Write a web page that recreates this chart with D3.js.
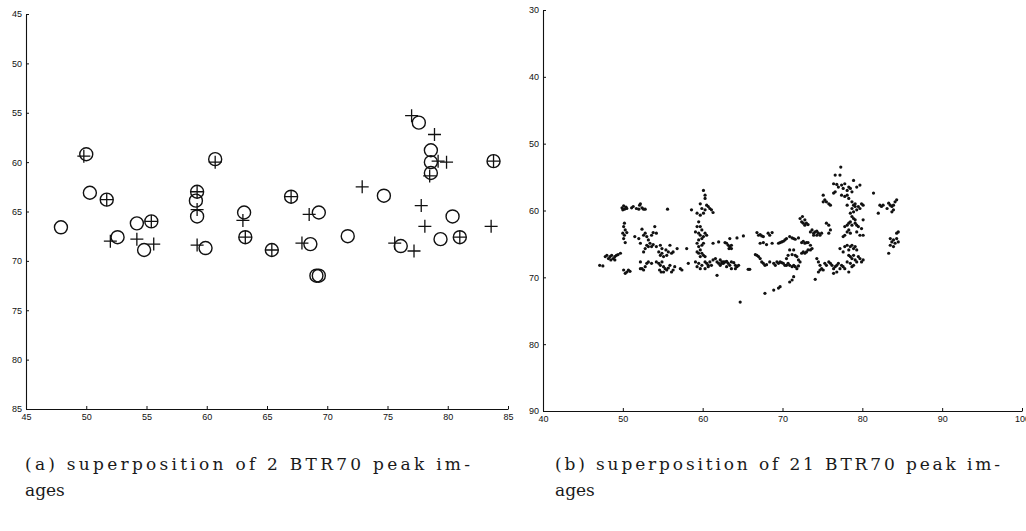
<!DOCTYPE html>
<html><head><meta charset="utf-8">
<script src="https://cdn.jsdelivr.net/npm/d3@7"></script>
<style>
html,body{margin:0;padding:0;background:#fff;}
svg{display:block;}
.tick text{font-family:"Liberation Sans",Arial,sans-serif;font-size:9px;fill:#111;}
.caption{font-family:"DejaVu Serif",serif;font-size:17px;fill:#1a1a1a;}
</style></head>
<body>
<svg id="c" width="1026" height="531"></svg>
<script>
// ---------- Panel (a): superposition of 2 peak images ----------
const aTicksX = [45,50,55,60,65,70,75,80,85];
const aTicksY = [45,50,55,60,65,70,75,80,85];
// image 1 peaks (circles) [x, y]
const aCircles = [
 [50.0,59.2],[60.7,59.7],[50.3,63.1],[51.7,63.8],[59.2,63.0],[59.1,63.9],[59.2,65.5],
 [47.9,66.6],[54.2,66.2],[55.4,66.0],[63.1,65.1],[63.2,67.6],[52.6,67.6],[54.8,68.9],
 [59.9,68.7],[65.4,68.9],[77.6,56.0],[78.6,58.8],[78.6,60.0],[78.6,61.1],[83.8,59.9],
 [74.7,63.4],[67.0,63.5],[69.3,65.1],[80.4,65.5],[71.7,67.5],[79.4,67.8],[81.0,67.6],
 [68.6,68.3],[76.1,68.5],[69.1,71.5],[69.3,71.5]
];
// image 2 peaks (crosses) [x, y]
const aCrosses = [
 [49.8,59.4],[60.7,60.0],[51.7,63.8],[59.2,63.0],[59.2,64.8],[55.4,66.0],[63.0,65.9],
 [63.2,67.6],[52.0,68.0],[54.2,67.8],[55.6,68.3],[59.2,68.4],[65.4,68.9],[77.0,55.3],
 [78.9,57.2],[79.9,60.0],[79.2,59.9],[78.5,61.4],[83.8,59.9],[72.9,62.5],[67.0,63.5],
 [77.8,64.4],[68.5,65.3],[78.1,66.5],[83.6,66.5],[81.0,67.6],[67.9,68.2],[75.6,68.2],
 [77.2,69.0]
];

// ---------- Panel (b): superposition of 21 peak images ----------
const bTicksX = [40,50,60,70,80,90,100];
const bTicksY = [30,40,50,60,70,80,90];
const bPoints = [
 [49.9,59.6],[50.1,59.3],[50.2,59.8],[50.0,59.9],[50.4,59.5],[50.5,59.7],[51.1,59.6],[51.3,59.4],
 [51.7,59.7],[52.1,59.2],[52.2,59.0],[52.4,59.6],[52.6,59.8],[52.8,59.8],[52.0,59.8],[55.6,59.8],
 [50.2,61.9],[50.1,62.4],[50.3,62.9],[50.0,63.4],[50.2,63.7],[50.5,63.3],[50.1,64.2],[50.3,64.8],
 [51.5,63.9],[52.0,64.2],[52.4,62.8],[52.6,63.7],[52.8,63.4],[53.0,63.9],[53.2,64.4],[53.4,64.9],
 [53.6,63.7],[53.8,63.3],[54.0,62.4],[54.2,63.4],[53.2,65.4],[53.0,65.2],[52.8,65.7],[52.6,66.2],
 [53.6,65.4],[53.8,65.1],[52.2,64.9],[54.2,65.4],[54.7,65.2],[54.9,65.7],
 [54.5,66.2],[54.7,66.7],[55.1,66.9],[55.5,66.7],[55.7,66.2],[55.9,65.2],[56.1,66.4],[55.4,65.9],
 [54.9,66.4],[56.3,66.2],[56.8,65.7],
 [47.8,66.9],[48.0,66.7],[48.2,67.2],[48.4,66.9],[48.6,66.7],[48.8,67.2],[49.0,67.4],[49.2,66.7],
 [49.4,66.6],[49.7,66.4],[49.0,66.9],[48.5,67.4],[47.1,68.2],[47.5,68.3],
 [50.1,68.9],[50.3,69.4],[50.5,69.2],[50.7,68.9],[50.9,69.1],
 [52.2,67.7],[52.4,68.7],[52.6,68.9],[52.8,68.4],[53.0,67.9],[53.2,67.7],[53.6,67.9],[54.2,67.7],
 [54.5,67.9],[54.7,68.2],[54.9,67.7],[55.1,68.4],[55.3,68.7],[55.5,68.9],[55.7,68.6],[55.9,68.2],
 [56.1,69.2],[56.3,68.9],[56.5,68.4],[54.6,68.9],[54.8,69.2],[55.1,69.2],[57.2,68.7],[57.4,68.9],
 [58.2,67.9],[52.2,68.7],
 [59.7,59.0],[60.1,57.0],[60.3,57.7],[60.3,58.2],[59.9,59.7],[60.3,59.9],[60.1,60.4],[59.7,60.7],
 [59.3,60.4],[58.6,59.9],[60.5,59.2],[60.7,59.4],[60.9,59.7],[61.1,59.9],[61.3,60.3],[59.5,61.7],
 [59.3,62.4],[59.7,62.4],[59.9,62.9],[59.1,63.2],[59.5,63.4],[59.7,63.7],[60.1,63.9],[60.3,63.4],
 [60.5,63.7],[59.9,64.2],[59.5,64.4],[59.3,64.9],[59.5,65.4],[59.9,65.2],[60.1,64.9],[59.7,65.9],
 [59.3,66.2],[59.5,66.4],[59.9,66.4],[60.1,66.7],[59.7,66.9],[60.3,66.9],[59.1,67.7],[59.5,67.9],
 [59.9,68.2],[60.3,67.7],[60.5,67.9],[60.7,68.2],[60.9,67.7],[59.3,68.4],[59.7,68.7],[60.3,68.7],
 [60.7,68.4],[61.1,68.2],[61.3,67.4],[61.6,67.2],[61.8,67.7],[62.0,67.9],[62.2,67.4],[62.4,67.9],
 [62.6,67.7],[61.8,69.7],[61.3,64.9],[62.0,64.7],[58.0,65.7],
 [63.0,64.9],[63.2,65.2],[63.4,65.4],[63.6,65.2],[63.3,65.7],[63.6,65.7],[62.8,64.8],[64.3,64.1],
 [65.1,63.8],[63.4,64.2],
 [62.4,67.7],[62.6,67.9],[62.8,67.7],[63.0,67.6],[63.2,67.9],[63.4,68.2],[63.6,67.7],[63.9,67.8],
 [64.1,68.2],[64.3,68.4],[64.5,68.2],[64.1,68.7],[63.6,68.7],[63.0,68.4],[62.2,68.2],[65.7,68.8],
 [65.9,68.8],
 [66.8,63.3],[67.0,63.7],[67.2,63.6],[67.4,63.8],[67.6,63.9],[68.2,63.4],[68.4,63.7],[68.7,63.3],
 [67.2,64.9],[67.6,64.8],[68.0,65.1],[68.7,64.9],[69.5,64.9],[69.7,64.8],[69.9,64.7],[70.1,64.6],
 [70.3,64.4],[70.5,64.2],[70.9,63.9],[71.2,64.1],[71.4,64.2],[71.6,64.3],[72.0,64.1],[72.4,64.8],
 [72.6,64.6],[72.8,64.9],[73.0,64.8],[73.2,64.8],[73.5,65.2],
 [66.6,66.6],[66.8,66.7],[67.0,66.9],[67.2,67.2],[67.4,67.7],[67.6,67.9],[67.8,68.2],[68.0,68.1],
 [68.4,67.7],[68.9,67.9],[69.1,68.2],[69.3,67.7],[69.5,67.9],[69.7,67.7],[69.9,67.8],[70.1,67.9],
 [70.3,68.2],[70.5,68.2],[70.7,67.9],[70.9,68.2],[71.2,68.4],[71.4,68.2],[71.6,68.4],[71.8,68.7],
 [72.0,68.3],[72.2,67.7],[72.4,66.4],[72.6,66.2],[72.8,66.4],[73.0,66.2],[73.2,65.9],[73.5,65.9],
 [73.7,65.7],[72.0,67.4],[71.8,66.9],[71.6,66.7],[71.2,66.6],[70.7,66.7],[70.5,67.2],[70.9,65.9],
 [71.4,65.9],
 [72.2,61.2],[72.4,61.7],[72.6,61.9],[72.8,62.2],[73.0,61.9],[73.2,62.1],[72.5,60.9],[72.8,61.4],
 [73.5,63.2],[73.7,62.9],[73.9,63.4],[74.1,63.2],[74.3,63.1],[74.5,63.4],[74.7,63.7],[74.9,63.4],
 [74.3,63.7],[73.9,63.7],[75.5,61.9],[75.8,62.2],[76.0,62.9],[75.8,63.4],
 [75.1,57.7],[75.3,58.4],[75.5,58.7],[75.8,59.0],[76.0,59.2],[75.1,58.7],
 [77.3,53.5],[76.6,54.7],[77.2,54.7],[76.4,56.0],[76.8,56.1],[77.0,56.5],[77.4,56.2],[77.6,56.7],
 [77.8,56.0],[78.1,57.0],[78.3,56.5],[78.5,56.7],[78.7,57.2],[78.9,55.5],[79.3,56.5],[79.7,56.2],
 [76.4,57.4],[76.6,57.2],[77.4,57.7],[77.8,57.9],[78.3,58.2],[78.1,57.7],
 [78.7,58.7],[78.9,59.2],[79.1,59.4],[78.7,59.7],[79.3,59.9],[78.9,60.2],[78.5,60.4],[79.1,59.0],
 [79.5,59.4],[79.7,59.7],[78.1,59.2],[80.1,59.2],[79.9,59.0],[78.7,60.9],[78.9,61.2],[79.1,61.4],
 [78.5,61.7],[78.3,61.9],[78.1,62.2],[77.8,62.4],[78.7,62.2],[79.1,61.9],[79.3,62.2],[78.3,62.9],
 [78.5,63.4],[78.1,63.2],[77.8,63.7],[77.6,63.9],[79.3,63.2],[79.7,63.7],[79.5,62.4],[79.9,62.7],
 [80.1,61.4],[80.1,63.7],
 [77.2,65.7],[77.6,66.2],[77.8,65.4],[78.1,65.2],[78.3,65.9],[78.5,65.4],[78.7,65.2],[78.9,65.7],
 [79.1,65.4],[79.3,65.9],[78.3,66.7],[78.5,66.9],[78.7,67.2],[78.9,66.7],[79.1,67.4],[79.3,67.7],
 [79.5,66.9],[79.7,67.2],[79.9,67.7],[80.1,67.4],[78.1,67.7],[78.5,67.9],[78.7,68.4],[78.9,68.2],
 [74.3,67.2],[74.5,67.7],[74.7,68.2],[74.9,68.7],[75.1,68.9],[75.3,67.9],[75.5,68.2],[75.8,67.7],
 [76.0,67.9],[76.2,68.2],[76.4,68.7],[76.6,68.4],[76.8,68.2],[77.0,67.9],[77.2,68.7],[77.4,68.2],
 [77.6,68.4],[77.8,68.7],[74.5,69.2],[74.7,68.9],[76.4,69.4],[76.8,69.2],[78.3,69.2],[74.1,70.3],
 [71.4,69.9],[71.2,70.4],[70.9,70.7],[69.7,71.4],[69.5,71.6],[68.9,71.9],[67.8,72.4],[64.7,73.7],
 [82.2,59.2],[82.4,59.4],[82.6,59.2],[83.1,59.7],[83.3,58.9],[83.5,59.2],[83.7,59.4],[83.9,59.2],
 [84.1,58.7],[84.3,58.4],[83.9,59.9],[83.7,60.2],[82.0,60.4],[81.4,57.4],
 [83.5,64.2],[83.7,64.7],[83.9,64.4],[84.1,64.9],[84.3,64.2],[84.5,64.7],[83.9,65.4],[83.5,65.2],
 [83.3,66.4],[84.5,63.2],[84.3,63.4]
];

const captionA = ["(a) superposition of 2 BTR70 peak im-", "ages"];
const captionB = ["(b) superposition of 21 BTR70 peak im-", "ages"];

const svg = d3.select("#c");

function axes(g, x, y, tx, ty){
  g.append("g").attr("transform",`translate(${x.range()[0]},0)`)
    .call(d3.axisLeft(y).tickValues(ty).tickFormat(d3.format("d")).tickSize(-3).tickSizeOuter(0).tickPadding(4));
  g.append("g").attr("transform",`translate(0,${y.range()[1]})`)
    .call(d3.axisBottom(x).tickValues(tx).tickFormat(d3.format("d")).tickSize(-3).tickSizeOuter(0).tickPadding(5));
  g.selectAll(".domain").attr("stroke","#111").attr("stroke-width",1.1);
  g.selectAll(".tick line").attr("stroke","#111");
}

// Panel a
const xa = d3.scaleLinear().domain([45,85]).range([26,508]);
const ya = d3.scaleLinear().domain([45,85]).range([14,409]);
const ga = svg.append("g");
axes(ga, xa, ya, aTicksX, aTicksY);
ga.append("g").selectAll("circle").data(aCircles).join("circle")
  .attr("cx",d=>xa(d[0])).attr("cy",d=>ya(d[1])).attr("r",6.5)
  .attr("fill","none").attr("stroke","#111").attr("stroke-width",1.4);
ga.append("g").selectAll("path").data(aCrosses).join("path")
  .attr("transform",d=>`translate(${xa(d[0])},${ya(d[1])})`)
  .attr("d","M-6.5,0H6.5M0,-6.5V6.5")
  .attr("fill","none").attr("stroke","#111").attr("stroke-width",1.3);

// Panel b
const xb = d3.scaleLinear().domain([40,100]).range([543,1022]);
const yb = d3.scaleLinear().domain([30,90]).range([10,411]);
const gb = svg.append("g");
axes(gb, xb, yb, bTicksX, bTicksY);
gb.append("g").selectAll("circle").data(bPoints).join("circle")
  .attr("cx",d=>xb(d[0])).attr("cy",d=>yb(d[1])).attr("r",1.6).attr("fill","#111");

// Captions (justified first line)
function caption(lines, x, w){
  svg.append("text").attr("class","caption").attr("x",x).attr("y",470)
    .attr("textLength",w).attr("lengthAdjust","spacing").text(lines[0]);
  svg.append("text").attr("class","caption").attr("x",x).attr("y",496).text(lines[1]);
}
caption(captionA, 25, 445);
caption(captionB, 555, 445);
</script>
</body></html>
